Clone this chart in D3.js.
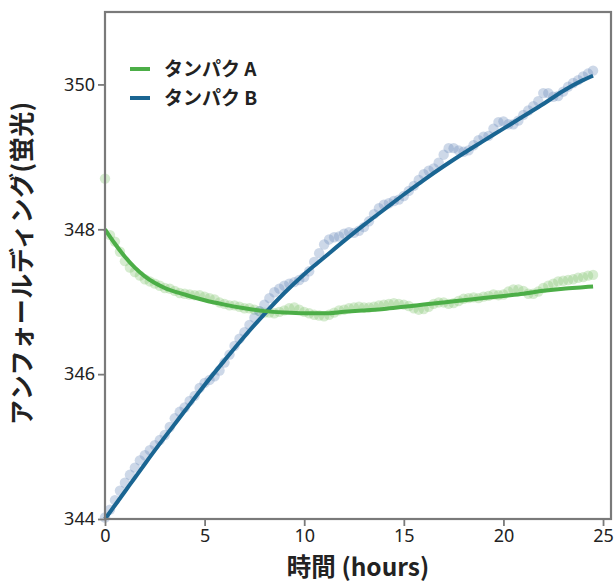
<!DOCTYPE html>
<html>
<head>
<meta charset="utf-8">
<script src="https://cdn.jsdelivr.net/npm/d3@7"></script>
<style>
  html, body { margin: 0; padding: 0; background: #fff; }
  svg { display: block; }
</style>
</head>
<body>
<svg id="chart" width="616" height="583"></svg>
<script>
// ---- Data ----
const seriesNames = ["タンパク A", "タンパク B"];
const xTicks = [0, 5, 10, 15, 20, 25];
const yTicks = [344, 346, 348, 350];
const xTitle = "時間 (hours)";
const yTitle = "アンフォールディング(蛍光)";

// measurement times (hours)
const pointTimes = [0,0.25,0.5,0.75,1,1.25,1.5,1.75,2,2.25,2.5,2.75,3,3.25,3.5,3.75,4,4.25,4.5,4.75,
  5,5.25,5.5,5.75,6,6.25,6.5,6.75,7,7.25,7.5,7.75,8,8.25,8.5,8.75,9,9.25,9.5,9.75,
  10,10.25,10.5,10.75,11,11.25,11.5,11.75,12,12.25,12.5,12.75,13,13.25,13.5,13.75,14,14.25,14.5,14.75,
  15,15.25,15.5,15.75,16,16.25,16.5,16.75,17,17.25,17.5,17.75,18,18.25,18.5,18.75,19,19.25,19.5,19.75,
  20,20.25,20.5,20.75,21,21.25,21.5,21.75,22,22.25,22.5,22.75,23,23.25,23.5,23.75,24,24.25,24.5];

// measured fluorescence, protein A
const pointsA = [348.70,347.92,347.83,347.69,347.56,347.47,347.41,347.36,347.31,347.28,347.25,347.22,347.19,347.18,347.15,347.12,347.11,347.10,347.09,347.09,
  347.07,347.05,347.03,346.99,346.97,346.95,346.95,346.93,346.91,346.91,346.89,346.87,346.85,346.85,346.84,346.86,346.88,346.91,346.92,346.89,
  346.86,346.84,346.82,346.81,346.80,346.82,346.85,346.88,346.89,346.91,346.92,346.93,346.92,346.92,346.93,346.95,346.96,346.97,346.98,346.97,
  346.96,346.94,346.91,346.89,346.90,346.93,346.97,346.99,346.99,346.97,346.98,347.01,347.04,347.05,347.06,347.05,347.07,347.08,347.10,347.09,
  347.10,347.14,347.17,347.17,347.15,347.11,347.11,347.14,347.19,347.22,347.25,347.28,347.29,347.30,347.31,347.33,347.34,347.36,347.37];

// measured fluorescence, protein B
const pointsB = [344.02,344.13,344.26,344.39,344.50,344.61,344.71,344.81,344.88,344.95,345.02,345.09,345.16,345.27,345.39,345.48,345.54,345.63,345.70,345.81,
  345.88,345.92,345.97,346.05,346.16,346.27,346.39,346.49,346.58,346.68,346.78,346.87,346.96,347.05,347.13,347.18,347.22,347.25,347.27,347.30,
  347.34,347.42,347.55,347.67,347.79,347.86,347.89,347.90,347.94,347.96,347.95,347.98,348.03,348.11,348.21,348.29,348.34,348.36,348.39,348.41,
  348.46,348.53,348.60,348.68,348.76,348.81,348.84,348.92,349.03,349.12,349.12,349.09,349.07,349.09,349.16,349.23,349.28,349.29,349.39,349.48,
  349.49,349.45,349.45,349.50,349.58,349.64,349.70,349.77,349.88,349.88,349.83,349.84,349.90,349.97,350.02,350.06,350.11,350.15,350.19];

// fitted curves
const fitTimes = [0,0.5,1,1.5,2,3,4,5,6,7,8,9,10,11,12,13,14,15,16,17,18,19,20,21,22,23,24,24.5];
const fitA = [348.00,347.80,347.62,347.47,347.35,347.19,347.10,347.02,346.96,346.91,346.87,346.85,346.84,346.84,346.86,346.88,346.90,346.93,346.96,346.99,347.02,347.05,347.08,347.11,347.15,347.18,347.20,347.21];
const fitB = [344.00,344.19,344.38,344.57,344.76,345.13,345.49,345.85,346.19,346.52,346.83,347.12,347.38,347.61,347.84,348.06,348.27,348.48,348.68,348.87,349.05,349.22,349.39,349.56,349.73,349.91,350.06,350.12];

// ---- Layout / style ----
const W = 616, H = 583;
const margin = {left: 105, top: 12, right: 5, bottom: 64};
const lineColors = ["#4cae47", "#1a6592"];
const pointColors = ["#86c775", "#6b8dbd"];
const frameColor = "#7a7a7a";

const svg = d3.select("#chart");
const x = d3.scaleLinear().domain([0, 25.4]).range([margin.left, W - margin.right]);
const y = d3.scaleLinear().domain([344, 351]).range([H - margin.bottom, margin.top]);

// points
const ptsData = [pointsA, pointsB];
ptsData.forEach((vals, si) => {
  svg.append("g")
    .selectAll("circle")
    .data(vals)
    .join("circle")
    .attr("cx", (d, i) => x(pointTimes[i]))
    .attr("cy", d => y(d))
    .attr("r", 5.2)
    .attr("fill", pointColors[si])
    .attr("fill-opacity", 0.34);
});

// fitted lines
const line = (vals) => d3.line()
  .x((d, i) => x(fitTimes[i]))
  .y(d => y(d))
  .curve(d3.curveMonotoneX)(vals);

[1, 0].forEach(si => {
  svg.append("path")
    .attr("d", line(si === 0 ? fitA : fitB))
    .attr("fill", "none")
    .attr("stroke", lineColors[si])
    .attr("stroke-width", 4)
    .attr("stroke-linecap", "butt");
});

// frame
svg.append("rect")
  .attr("x", x(0)).attr("y", y(351))
  .attr("width", x(25.4) - x(0))
  .attr("height", y(344) - y(351))
  .attr("fill", "none")
  .attr("stroke", frameColor)
  .attr("stroke-width", 2.2);

// axes
const tickFont = "'Noto Sans', 'Open Sans', sans-serif";
const xAxis = svg.append("g")
  .attr("transform", `translate(0,${y(344)})`)
  .call(d3.axisBottom(x).tickValues(xTicks).tickSize(7).tickPadding(3).tickFormat(d3.format("d")));
const yAxis = svg.append("g")
  .attr("transform", `translate(${x(0)},0)`)
  .call(d3.axisLeft(y).tickValues(yTicks).tickSize(7).tickPadding(3).tickFormat(d3.format("d")));
[xAxis, yAxis].forEach(g => {
  g.select(".domain").remove();
  g.selectAll(".tick line").attr("stroke", frameColor).attr("stroke-width", 1.8);
  g.selectAll(".tick text")
    .attr("fill", "#222")
    .style("font-family", tickFont)
    .style("font-size", "18px");
});

// axis titles
const titleFont = "'Noto Sans CJK JP', 'Noto Sans', sans-serif";
svg.append("text")
  .attr("x", (x(0) + x(25.4)) / 2)
  .attr("y", 576)
  .attr("text-anchor", "middle")
  .attr("fill", "#222")
  .style("font-family", titleFont)
  .style("font-weight", "bold")
  .style("font-size", "24.5px")
  .text(xTitle);

svg.append("text")
  .attr("transform", `translate(31,263) rotate(-90)`)
  .attr("text-anchor", "middle")
  .attr("fill", "#222")
  .style("font-family", titleFont)
  .style("font-weight", "bold")
  .style("font-size", "25px")
  .style("letter-spacing", "0.6px")
  .text(yTitle);

// legend
const legend = svg.append("g").attr("transform", "translate(130,69)");
seriesNames.forEach((name, i) => {
  const g = legend.append("g").attr("transform", `translate(0,${i * 29})`);
  g.append("line")
    .attr("x1", 0).attr("x2", 20).attr("y1", 0).attr("y2", 0)
    .attr("stroke", lineColors[i]).attr("stroke-width", 4);
  g.append("text")
    .attr("x", 34).attr("y", 7)
    .attr("fill", "#222")
    .style("font-family", titleFont)
    .style("font-weight", "bold")
    .style("font-size", "19px")
    .text(name);
});
</script>
</body>
</html>
